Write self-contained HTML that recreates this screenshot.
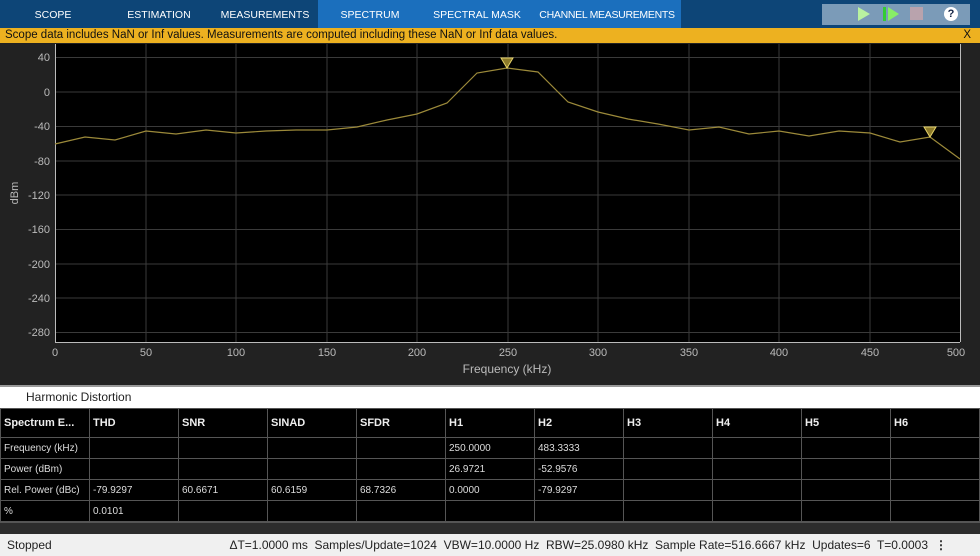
<!DOCTYPE html>
<html><head><meta charset="utf-8"><style>
body{margin:0;width:980px;height:556px;overflow:hidden;background:#222;font-family:"Liberation Sans",sans-serif;position:relative}
.abs{position:absolute}
.tab{position:absolute;top:0;height:28px;line-height:30px;color:#fff;font-size:10.5px;text-align:center;white-space:nowrap}
table{border-collapse:collapse;position:absolute;left:0;top:408px;width:980px;background:#000;color:#ddd;font-size:10px}
td{border:1px solid #555;height:20px;padding:0 3px;width:82px;white-space:nowrap}
tr.h td{height:28px;font-weight:bold;font-size:11px;color:#eee}
</style></head><body>
<div class="abs" style="left:0;top:0;width:980px;height:28px;background:#0d4577"></div>
<div class="abs" style="left:318px;top:0;width:363px;height:28px;background:#1b6fbd"></div>
<div class="tab" style="left:18px;width:70px">SCOPE</div>
<div class="tab" style="left:118px;width:82px">ESTIMATION</div>
<div class="tab" style="left:216px;width:98px">MEASUREMENTS</div>
<div class="tab" style="left:330px;width:80px">SPECTRUM</div>
<div class="tab" style="left:428px;width:98px">SPECTRAL MASK</div>
<div class="tab" style="left:532px;width:150px;letter-spacing:-0.3px">CHANNEL MEASUREMENTS</div>
<div class="abs" style="left:822px;top:4px;width:148px;height:21px;background:#7b9bb8"></div>
<div class="abs" style="left:858px;top:7px;width:0;height:0;border-left:12px solid #b9f2a0;border-top:7px solid transparent;border-bottom:7px solid transparent"></div>
<div class="abs" style="left:883px;top:7px;width:3px;height:14px;background:#3c3"></div>
<div class="abs" style="left:888px;top:7px;width:0;height:0;border-left:11px solid #8e6;border-top:7px solid transparent;border-bottom:7px solid transparent"></div>
<div class="abs" style="left:910px;top:7px;width:13px;height:13px;background:#b9a3ad"></div>
<div class="abs" style="left:944px;top:7px;width:14px;height:14px;border-radius:50%;background:#fff;color:#124;font-size:11px;font-weight:bold;text-align:center;line-height:14px">?</div>
<div class="abs" style="left:0;top:28px;width:980px;height:15px;background:#edb120;font-size:11.5px;line-height:15px;color:#111;padding-left:5px;box-sizing:border-box">Scope data includes NaN or Inf values. Measurements are computed including these NaN or Inf data values.<span style="position:absolute;right:9px">X</span></div>
<svg class="abs" style="left:0;top:43px" width="980" height="342" viewBox="0 43 980 342">
<rect x="55" y="44" width="905" height="298" fill="#000"/>
<g stroke="#3a3a3a" stroke-width="1">
<line x1="146" y1="44" x2="146" y2="342"/><line x1="236" y1="44" x2="236" y2="342"/><line x1="327" y1="44" x2="327" y2="342"/><line x1="417" y1="44" x2="417" y2="342"/><line x1="508" y1="44" x2="508" y2="342"/><line x1="598" y1="44" x2="598" y2="342"/><line x1="689" y1="44" x2="689" y2="342"/><line x1="779" y1="44" x2="779" y2="342"/><line x1="870" y1="44" x2="870" y2="342"/>
<line x1="55" y1="57.5" x2="960" y2="57.5"/><line x1="55" y1="92" x2="960" y2="92"/><line x1="55" y1="126.5" x2="960" y2="126.5"/><line x1="55" y1="161" x2="960" y2="161"/><line x1="55" y1="195" x2="960" y2="195"/><line x1="55" y1="229.5" x2="960" y2="229.5"/><line x1="55" y1="264" x2="960" y2="264"/><line x1="55" y1="298" x2="960" y2="298"/><line x1="55" y1="332.5" x2="960" y2="332.5"/>
</g>
<g stroke="#bbb" fill="none"><line x1="55.5" y1="44" x2="55.5" y2="342"/><line x1="55" y1="342.5" x2="960" y2="342.5"/><line x1="960.5" y1="44" x2="960.5" y2="342"/></g>
<g font-size="11" fill="#bbb" text-anchor="end">
<text x="50" y="61">40</text><text x="50" y="96">0</text><text x="50" y="130">-40</text><text x="50" y="165">-80</text><text x="50" y="199">-120</text><text x="50" y="233">-160</text><text x="50" y="268">-200</text><text x="50" y="302">-240</text><text x="50" y="336">-280</text></g>
<g font-size="11" fill="#bbb" text-anchor="middle">
<text x="55" y="356">0</text><text x="146" y="356">50</text><text x="236" y="356">100</text><text x="327" y="356">150</text><text x="417" y="356">200</text><text x="508" y="356">250</text><text x="598" y="356">300</text><text x="689" y="356">350</text><text x="779" y="356">400</text><text x="870" y="356">450</text><text x="956" y="356">500</text>
<text x="507" y="373" font-size="12">Frequency (kHz)</text>
<text transform="translate(18,193) rotate(-90)" font-size="11">dBm</text></g>
<polyline fill="none" stroke="#9c8a3a" stroke-width="1.2" points="55,144 85,137 115,140 146,131 176,134 206,130 236,133 266,131 296,130 327,130 357,127 387,120 417,114 447,103 477,73 507,68 538,72 568,102 598,112 628,119 658,124 689,130 719,127 749,134 779,131 809,136 839,131 870,133 900,142 930,137 960,159"/>
<polygon points="501,58 513,58 507,68" fill="#8c7a2a" stroke="#e6d36a" stroke-width="1"/>
<polygon points="924,127 936,127 930,137" fill="#8c7a2a" stroke="#e6d36a" stroke-width="1"/>
</svg>
<div class="abs" style="left:0;top:385px;width:980px;height:2px;background:#999"></div>
<div class="abs" style="left:0;top:387px;width:980px;height:21px;background:#fff;font-size:12px;line-height:21px;color:#222;padding-left:26px;box-sizing:border-box">Harmonic Distortion</div>
<table>
<tr class="h"><td>Spectrum E...</td><td>THD</td><td>SNR</td><td>SINAD</td><td>SFDR</td><td>H1</td><td>H2</td><td>H3</td><td>H4</td><td>H5</td><td>H6</td></tr>
<tr><td>Frequency (kHz)</td><td></td><td></td><td></td><td></td><td>250.0000</td><td>483.3333</td><td></td><td></td><td></td><td></td></tr>
<tr><td>Power (dBm)</td><td></td><td></td><td></td><td></td><td>26.9721</td><td>-52.9576</td><td></td><td></td><td></td><td></td></tr>
<tr><td>Rel. Power (dBc)</td><td>-79.9297</td><td>60.6671</td><td>60.6159</td><td>68.7326</td><td>0.0000</td><td>-79.9297</td><td></td><td></td><td></td><td></td></tr>
<tr><td>%</td><td>0.0101</td><td></td><td></td><td></td><td></td><td></td><td></td><td></td><td></td><td></td></tr>
</table>
<div class="abs" style="left:0;top:522px;width:980px;height:12px;background:#2c2c2c;border-top:1px solid #555"></div>
<div class="abs" style="left:0;top:534px;width:980px;height:22px;background:#f0f0f0;font-size:12px;line-height:22px;color:#222">
<span style="position:absolute;left:7px">Stopped</span>
<span style="position:absolute;right:52px">ΔT=1.0000 ms&nbsp; Samples/Update=1024&nbsp; VBW=10.0000 Hz&nbsp; RBW=25.0980 kHz&nbsp; Sample Rate=516.6667 kHz&nbsp; Updates=6&nbsp; T=0.0003</span>
<span style="position:absolute;right:33px;font-weight:bold">⋮</span></div>
</body></html>
